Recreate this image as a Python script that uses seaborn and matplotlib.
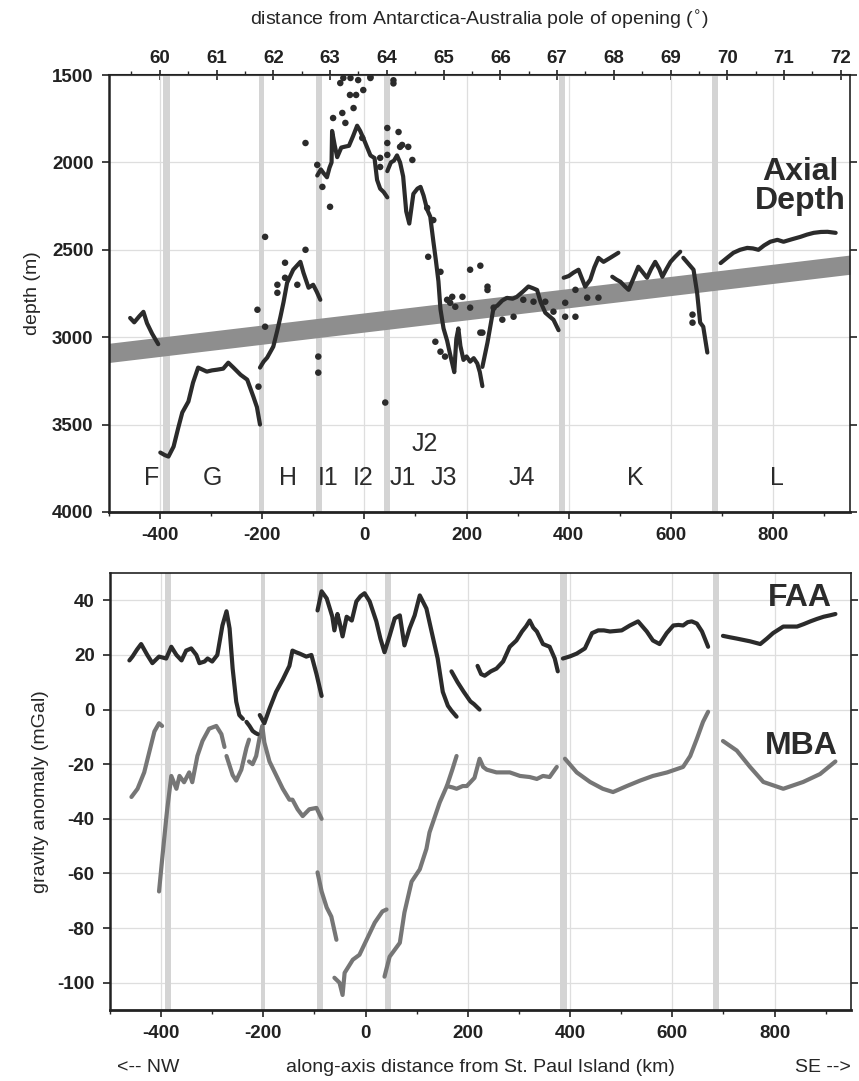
import numpy as np
import pandas as pd
import matplotlib.pyplot as plt
import seaborn as sns

# ---------------- axial depth profile (km along axis, depth in m) ----------------
F_km = [-458, -450, -440, -432, -425, -415, -403]
F_depth = [2890, 2915, 2880, 2855, 2920, 2980, 3040]

G_km = [-399, -390, -383, -373, -364, -356, -344, -335, -325, -308, -298, -288, -276, -266, -256, -242, -229, -217, -210, -204]
G_depth = [3660, 3675, 3683, 3626, 3520, 3431, 3368, 3260, 3174, 3197, 3190, 3186, 3180, 3146, 3174, 3215, 3243, 3340, 3400, 3500]

H_km = [-204, -197, -190, -178, -170, -164, -158, -151, -139, -125, -119, -109, -100, -93, -86]
H_depth = [3174, 3140, 3117, 3054, 2960, 2883, 2800, 2689, 2614, 2569, 2631, 2717, 2700, 2740, 2786]

I_km = [-92, -85, -80, -73, -68, -64, -63, -58, -53, -45, -38, -30, -22, -14, -8, -2, 5, 12, 20, 25, 31, 38, 45]
I_depth = [2075, 2040, 2060, 2085, 2030, 2000, 1820, 1900, 1970, 1915, 1910, 1905, 1850, 1790, 1820, 1860, 1910, 1960, 1975, 2100, 2150, 2170, 2200]

J_km = [45, 52, 58, 64, 70, 76, 82, 88, 96, 104, 110, 116, 123, 129, 135, 140, 145, 149, 155, 162, 168, 172, 176,
        180, 184, 188, 194, 200, 207, 214, 221, 226, 231]
J_depth = [2050, 2000, 1990, 1960, 2000, 2080, 2280, 2350, 2180, 2150, 2140, 2190, 2270, 2310, 2450, 2560, 2680, 2840, 2950, 3020, 3100, 3150, 3200,
           3010, 2950, 3050, 3130, 3110, 3140, 3120, 3150, 3200, 3280]

J4_km = [231, 241, 253, 260, 270, 279, 290, 298, 310, 321, 330, 338, 345, 354, 362, 370, 380]
J4_depth = [3170, 3030, 2830, 2820, 2790, 2775, 2780, 2770, 2740, 2710, 2720, 2730, 2800, 2860, 2880, 2900, 2960]

K1_km = [390, 400, 409, 419, 432, 442, 450, 458, 468, 481, 497]
K1_depth = [2660, 2650, 2631, 2614, 2711, 2671, 2600, 2546, 2569, 2546, 2517]

K2_km = [485, 493, 501, 510, 517, 527, 536, 545, 553, 561, 569, 577, 583, 591, 599, 608, 618]
K2_depth = [2654, 2670, 2683, 2710, 2729, 2660, 2597, 2630, 2660, 2610, 2569, 2610, 2654, 2610, 2569, 2540, 2511]

K3_km = [624, 634, 644, 651, 657, 663, 671]
K3_depth = [2546, 2580, 2614, 2746, 2917, 2940, 3088]

L_km = [697, 710, 722, 735, 749, 760, 771, 782, 794, 808, 820, 836, 853, 866, 879, 893, 906, 922]
L_depth = [2576, 2545, 2517, 2500, 2489, 2492, 2500, 2475, 2454, 2443, 2454, 2440, 2426, 2413, 2403, 2398, 2397, 2403]

# individual soundings (dots)
dots_km = [-47, -41, -28, -16, -12, -2, 12, 57, 57, -21, -43, -61, -37, -115, -92, -82, -67, 45, 67, 45, 70, 45, 94,
           -4, 31, 31, -194, -115, -155, -170, -170, -155, -131, -209, -194, -90, -90, -207, 41, 74, 86, 123, 135,
           125, 149, 162, 172, 178, 192, 207, 227, 241, 241, 207, 227, 139, 149, 158, 253, 270, 292, 168, 354, 370,
           393, 393, 413, 413, 436, 458, 642, 642, 311, 331, 231, -27, 12]
dots_depth = [1546, 1517, 1614, 1614, 1529, 1586, 1517, 1530, 1548, 1689, 1717, 1746, 1774, 1889, 2014, 2140, 2254, 1803,
              1826, 1889, 1911, 1957, 1986, 1860, 1974, 2026, 2426, 2500, 2574, 2700, 2746, 2660, 2700, 2843, 2940, 3111,
              3203, 3283, 3374, 1900, 1911, 2260, 2330, 2540, 2626, 2786, 2769, 2826, 2769, 2614, 2591, 2711, 2730,
              2831, 2974, 3026, 3083, 3111, 2831, 2900, 2883, 2803, 2797, 2854, 2803, 2883, 2883, 2729, 2774, 2774,
              2871, 2917, 2786, 2797, 2974, 1517, 1511]

# reference (age-depth) band
band_km = [-500, 950]
band_top = [3035, 2530]
band_bottom = [3145, 2640]

# fracture zones / discontinuities
fz_km = [-387, -201, -89, 44, 387, 686]

seg_names = ['F', 'G', 'H', 'I1', 'I2', 'J1', 'J3', 'J4', 'K', 'L']
seg_km = [-415, -297, -149, -70, -2, 76, 155, 309, 530, 808]

# ---------------- gravity (km, mGal) ----------------
FAA1_km = [-462, -456, -447, -439, -433, -427, -417, -404, -390, -380, -370, -360, -351, -341, -331, -325, -315, -309, -300, -290, -280, -272, -266, -260, -253, -247, -240]
FAA1_mgal = [18, 19.4, 22, 24, 22, 20, 17, 19.4, 18.7, 23, 20, 18, 21.6, 22.4, 20, 17, 17.6, 18.7, 17.6, 20, 30.8, 36, 29.7, 15, 2.9, -2, -3.4]
FAA2_km = [-233, -227, -221, -216, -211]
FAA2_mgal = [-4.5, -6, -7.8, -8.5, -9]
FAA3_km = [-207, -198, -188, -175, -162, -149, -143, -136, -129, -116, -106, -96, -86]
FAA3_mgal = [-2, -5, 0.3, 6.5, 11, 16, 21.6, 21, 20.5, 19.4, 20, 13, 5]
FAA4_km = [-94, -86, -76, -65, -61, -55, -51, -45, -37, -27, -18, -10, -2, 8, 21, 29, 37, 47, 57, 67, 76, 86, 96, 106, 119, 131, 141, 151, 161, 168, 178]
FAA4_mgal = [36.3, 43.3, 40.7, 34, 29, 35, 32, 26.8, 34, 32.6, 39.6, 41.5, 42.6, 39.6, 32.3, 26, 21, 27, 33.4, 34.5, 23.5, 29.7, 34.5, 41.8, 37, 27, 18.7, 6.5, 1.4, -0.4, -2.6]
FAA5_km = [168, 180, 192, 205, 212, 223]
FAA5_mgal = [14, 10, 6.5, 3, 2, 0]
FAA6_km = [219, 226, 233, 245, 256, 269, 282, 295, 306, 314, 321, 328, 335, 347, 360, 370, 376]
FAA6_mgal = [16, 13, 12.4, 14, 15, 17.6, 23, 25.3, 28.6, 30.5, 32.6, 30, 28.6, 24, 23, 18.7, 14]
FAA7_km = [386, 400, 413, 429, 443, 455, 466, 478, 490, 501, 517, 533, 550, 562, 575, 589, 602, 612, 621, 630, 638, 648, 658, 670]
FAA7_mgal = [18.7, 19.5, 20.5, 22.4, 28, 29, 29, 28.6, 28.8, 29, 30.8, 32.3, 28.6, 25.3, 24, 28, 30.8, 31, 30.8, 32, 32.3, 31.5, 28.6, 23]
FAA8_km = [699, 712, 726, 739, 752, 762, 772, 785, 797, 817, 830, 844, 857, 870, 883, 896, 908, 919]
FAA8_mgal = [27, 26.5, 26, 25.5, 25, 24.5, 24, 26, 28, 30.4, 30.4, 30.4, 31.3, 32.3, 33.2, 34, 34.5, 35]

MBA1_km = [-458, -446, -433, -423, -413, -404, -398]
MBA1_mgal = [-32, -29, -23, -15.5, -8, -5, -6]
MBA2_km = [-404, -398, -390, -388, -380, -370, -364, -355, -345, -339, -329, -319, -306, -292, -282, -276]
MBA2_mgal = [-66.6, -55, -40, -36.5, -24.3, -29, -24.3, -26.6, -23, -26.6, -17, -11.5, -7, -6, -9, -13.7]
MBA3_km = [-272, -260, -253, -243, -233, -228]
MBA3_mgal = [-17, -24, -26, -22, -14, -11]
MBA4_km = [-228, -221, -214, -207, -202, -198, -188, -175, -162, -149, -143, -133, -123, -110, -96, -86]
MBA4_mgal = [-19, -20, -17, -10, -6, -12, -19, -24, -29, -33, -33, -36.5, -39, -36.5, -36, -40]
MBA5_km = [-94, -86, -76, -67, -57]
MBA5_mgal = [-59.6, -66.6, -72.5, -75.8, -84.3]
MBA6_km = [-61, -51, -45, -41, -25, -12, 2, 18, 33, 41]
MBA6_mgal = [-98.2, -100, -104.5, -96.4, -91.6, -89.8, -84.3, -78, -73.9, -73.2]
MBA7_km = [37, 47, 67, 76, 90, 106, 119, 125, 145, 159, 170, 178, 190, 198, 213, 223, 230, 237, 256, 282, 302, 321, 335, 347, 360, 374]
MBA7_mgal = [-97.8, -90.5, -85.4, -74.3, -63, -58.5, -51, -45, -34, -28, -28.5, -29, -28, -28, -25, -18, -21, -22, -23, -23, -24.3, -24.7, -25.4, -24.3, -24.7, -21]
MBA8_km = [159, 170, 178]
MBA8_mgal = [-28, -21.8, -17]
MBA9_km = [390, 413, 439, 464, 484, 511, 537, 562, 590, 621, 635, 648, 660, 670]
MBA9_mgal = [-18, -23, -26.5, -29, -30.2, -28, -26, -24.3, -23, -21, -17, -10.7, -4.5, -0.8]
MBA10_km = [699, 726, 752, 778, 817, 856, 889, 919]
MBA10_mgal = [-11.5, -15, -21, -26.5, -29, -26.5, -23.6, -19]


def frame(segs):
    parts = [pd.DataFrame({'km': x, 'val': y, 'seg': i}) for i, (x, y) in enumerate(segs)]
    return pd.concat(parts, ignore_index=True)


depth_df = frame([(F_km, F_depth), (G_km, G_depth), (H_km, H_depth), (I_km, I_depth), (J_km, J_depth),
                  (J4_km, J4_depth), (K1_km, K1_depth), (K2_km, K2_depth), (K3_km, K3_depth), (L_km, L_depth)])
faa_df = frame([(FAA1_km, FAA1_mgal), (FAA2_km, FAA2_mgal), (FAA3_km, FAA3_mgal), (FAA4_km, FAA4_mgal),
                (FAA5_km, FAA5_mgal), (FAA6_km, FAA6_mgal), (FAA7_km, FAA7_mgal), (FAA8_km, FAA8_mgal)])
mba_df = frame([(MBA1_km, MBA1_mgal), (MBA2_km, MBA2_mgal), (MBA3_km, MBA3_mgal), (MBA4_km, MBA4_mgal),
                (MBA5_km, MBA5_mgal), (MBA6_km, MBA6_mgal), (MBA7_km, MBA7_mgal), (MBA8_km, MBA8_mgal),
                (MBA9_km, MBA9_mgal), (MBA10_km, MBA10_mgal)])
dots_df = pd.DataFrame({'km': dots_km, 'depth': dots_depth})

sns.set_theme(style="white")
plt.rcParams['font.family'] = ['Liberation Sans', 'DejaVu Sans']
plt.rcParams['axes.unicode_minus'] = False

dark = '#2b2b2b'
mid = '#767676'
fzcol = '#d4d4d4'
gridcol = '#dedede'

fig = plt.figure(figsize=(8.59, 10.81), dpi=100)
ax1 = fig.add_axes([0.1265, 0.5264, 0.863, 0.4042])
ax2 = fig.add_axes([0.1280, 0.0657, 0.863, 0.4042])

for ax in (ax1, ax2):
    ax.set_xlim(-500, 950)
    ax.set_xticks(np.arange(-400, 801, 200))
    ax.set_xticks(np.arange(-500, 951, 100), minor=True)
    ax.grid(True, which='major', color=gridcol, lw=0.9, zorder=0)
    ax.set_axisbelow(True)
    for x in fz_km:
        w = 4 if x == -201 else 6
        ax.axvspan(x - w, x + w, color=fzcol, lw=0, zorder=1)
    ax.tick_params(axis='both', which='major', direction='out', length=5, width=1.2,
                   labelsize=13.5, pad=6, left=True, bottom=True, right=True, colors='#222222')
    ax.tick_params(axis='x', which='minor', direction='out', length=3, width=1, bottom=True)
    for s in ax.spines.values():
        s.set_color('#222222')
        s.set_linewidth(1.2)
    ax.spines['bottom'].set_linewidth(2)
    ax.spines['left'].set_linewidth(1.8)

# ---- top panel ----
ax1.fill_between(band_km, band_top, band_bottom, color='#8e8e8e', lw=0, zorder=2)
sns.lineplot(data=depth_df, x='km', y='val', units='seg', estimator=None, sort=False,
             color=dark, lw=3, ax=ax1, zorder=4)
sns.scatterplot(data=dots_df, x='km', y='depth', color=dark, s=22, edgecolor='none', ax=ax1, zorder=5)
ax1.set_ylim(4000, 1500)
ax1.set_yticks(np.arange(1500, 4001, 500))
for lab in ax1.get_xticklabels() + ax1.get_yticklabels():
    lab.set_fontweight('bold')
ax1.set_xlabel('')
ax1.set_ylabel('depth (m)', fontsize=14, labelpad=8)
ax1.text(941, 2137, 'Axial\nDepth', ha='right', va='center', multialignment='center',
         fontsize=23, fontweight='bold', color=dark, linespacing=0.95)
for name, x in zip(seg_names, seg_km):
    ax1.text(x, 3803, name, ha='center', va='center', fontsize=18, color=dark)
ax1.text(119, 3614, 'J2', ha='center', va='center', fontsize=18, color=dark)


def km2deg(k):
    return 60 + (np.asarray(k) + 400) / 111.0


def deg2km(d):
    return (np.asarray(d) - 60) * 111.0 - 400


top = ax1.secondary_xaxis('top', functions=(km2deg, deg2km))
top.set_xticks(np.arange(60, 73, 1))
top.set_xticks(np.arange(59.5, 72.6, 0.5), minor=True)
top.tick_params(which='major', direction='inout', length=7, width=1.2, labelsize=13.5, pad=2, colors='#222222')
top.tick_params(which='minor', direction='out', length=3, width=1)
for lab in top.get_xticklabels():
    lab.set_fontweight('bold')
top.set_xlabel('distance from Antarctica-Australia pole of opening ($^{\\circ}$)', fontsize=14, labelpad=18)
top.spines['top'].set_linewidth(1.5)

# ---- bottom panel ----
sns.lineplot(data=mba_df, x='km', y='val', units='seg', estimator=None, sort=False,
             color=mid, lw=3, ax=ax2, zorder=3)
sns.lineplot(data=faa_df, x='km', y='val', units='seg', estimator=None, sort=False,
             color=dark, lw=3, ax=ax2, zorder=4)
ax2.set_ylim(-110, 50)
ax2.set_yticks(np.arange(-100, 41, 20))
for lab in ax2.get_xticklabels() + ax2.get_yticklabels():
    lab.set_fontweight('bold')
ax2.set_ylabel('gravity anomaly (mGal)', fontsize=14, labelpad=6)
ax2.set_xlabel('along-axis distance from St. Paul Island (km)', fontsize=14, labelpad=12)
ax2.text(913, 40.7, 'FAA', ha='right', va='center', fontsize=23, fontweight='bold', color=dark)
ax2.text(923, -13.3, 'MBA', ha='right', va='center', fontsize=23, fontweight='bold', color=dark)
fig.text(148 / 859, 1 - 1068 / 1081, '<-- NW', ha='center', va='center', fontsize=14)
fig.text(823 / 859, 1 - 1068 / 1081, 'SE -->', ha='center', va='center', fontsize=14)

fig.savefig('out.png', dpi=100)
